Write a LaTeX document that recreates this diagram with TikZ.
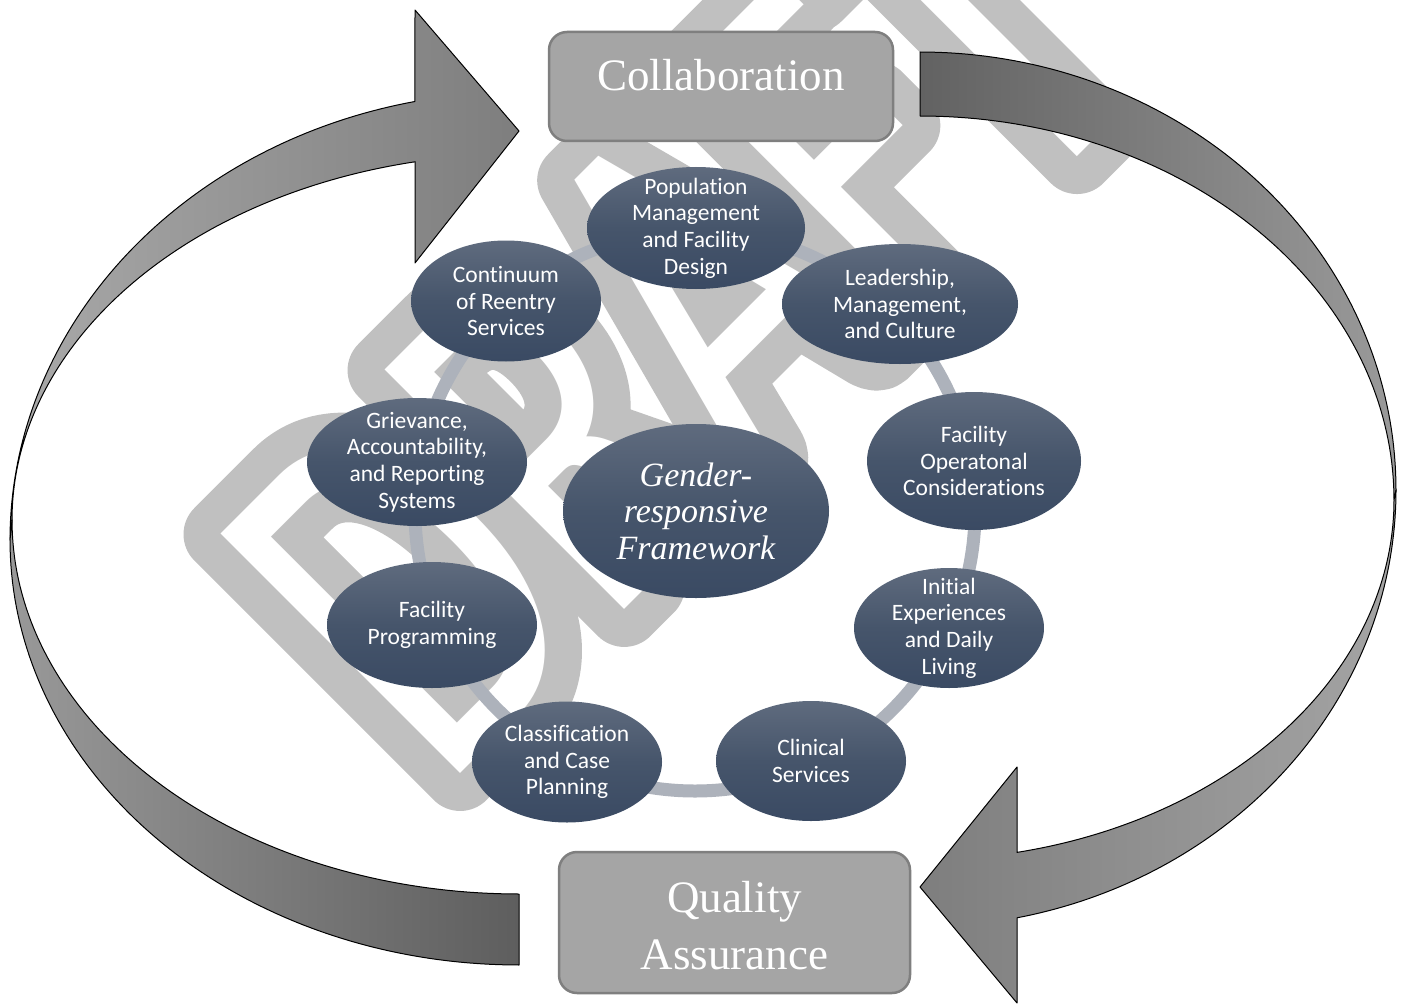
\documentclass[tikz,border=0pt]{standalone}
\usepackage{fontspec}
\setmainfont{Carlito}[Ligatures=NoCommon]
\newfontfamily\boxfont{Liberation Serif}
\newfontfamily\wmfill{Carlito}[FakeStretch=0.71]
\newfontfamily\wmstroke{Carlito}[FakeStretch=0.71, FakeBold=14]
\usetikzlibrary{shapes.geometric}

\definecolor{wmgrey}{HTML}{C0C0C0}
\definecolor{ringcol}{HTML}{ADB2BB}
\definecolor{elltop}{HTML}{5F6B7E}
\definecolor{ellmid}{HTML}{46556B}
\definecolor{ellbot}{HTML}{3A4A63}
\definecolor{boxfill}{HTML}{A5A5A5}
\definecolor{boxline}{HTML}{7F7F7F}
\definecolor{arrLa}{HTML}{A9A9A9}
\definecolor{arrLb}{HTML}{7E7E7E}
\definecolor{arrLc}{HTML}{999999}
\definecolor{arrLd}{HTML}{5E5E5E}
\definecolor{arrRa}{HTML}{626262}
\definecolor{arrRb}{HTML}{9A9A9A}
\definecolor{arrRc}{HTML}{7E7E7E}
\definecolor{arrRd}{HTML}{A4A4A4}

\begin{document}
\begin{tikzpicture}[x=1pt,y=-1pt,
  topic/.style={ellipse, inner sep=0pt, draw=none,
    top color=elltop, bottom color=ellbot, middle color=ellmid},
  topictext/.style={text=white, align=center, inner sep=0pt,
    font=\fontsize{23.5}{26.7}\selectfont},
  corebox/.style={rectangle, rounded corners=18pt, fill=boxfill,
    draw=boxline, line width=2.5pt},
  boxtext/.style={text=white, align=center, inner sep=0pt,
    font=\boxfont\fontsize{45}{57}\selectfont},
  arrowedge/.style={draw=black, line width=1pt, line join=round},
  wmark/.style={rotate=45, anchor=base west, inner sep=0pt}]

\useasboundingbox (0,0) rectangle (1404,1003);
\fill[white] (0,0) rectangle (1404,1003);

% watermark: outlined letters
\begin{scope}[line join=round]
  \node[wmark, text=wmgrey] (wmband) at (442,792)
    {\wmstroke\fontsize{528}{528}\selectfont DRAFT};
  \node[wmark, text=white] (wmhole) at (442,792)
    {\wmfill\fontsize{528}{528}\selectfont DRAFT};
\end{scope}

% ring joining the topics
\draw[ringcol, line width=13pt] (695,511) circle[radius=280];

% topics
\node[topic, minimum width=218pt, minimum height=122pt] (pop)   at (696,228) {};
\node[topic, minimum width=236pt, minimum height=120pt] (lead)  at (900,304) {};
\node[topic, minimum width=214pt, minimum height=138pt] (facop) at (974,461) {};
\node[topic, minimum width=190pt, minimum height=120pt] (init)  at (949,628) {};
\node[topic, minimum width=190pt, minimum height=120pt] (clin)  at (811,761) {};
\node[topic, minimum width=190pt, minimum height=121pt] (class) at (567,762) {};
\node[topic, minimum width=210pt, minimum height=126pt] (prog)  at (432,625) {};
\node[topic, minimum width=220pt, minimum height=128pt] (griev) at (417,462) {};
\node[topic, minimum width=190pt, minimum height=121pt] (cont)  at (506,301) {};
\node[topic, minimum width=266pt, minimum height=174pt] (core)  at (696,511) {};

\node[topictext] (poptext)   at (pop)   {Population\\Management\\and Facility\\Design};
\node[topictext] (leadtext)  at (lead)  {Leadership,\\Management,\\and Culture};
\node[topictext] (facoptext) at (facop) {Facility\\Operatonal\\Considerations};
\node[topictext] (inittext)  at (init)  {Initial\\Experiences\\and Daily\\Living};
\node[topictext] (clintext)  at (clin)  {Clinical\\Services};
\node[topictext] (classtext) at (class) {Classification\\and Case\\Planning};
\node[topictext] (progtext)  at (prog)  {Facility\\Programming};
\node[topictext] (grievtext) at (griev) {Grievance,\\Accountability,\\and Reporting\\Systems};
\node[topictext] (conttext)  at (cont)  {Continuum\\of Reentry\\Services};
\node[text=white, align=center, inner sep=0pt,
      font=\boxfont\itshape\fontsize{34}{36.5}\selectfont] (coretext) at (core)
      {Gender-\\responsive\\Framework};

% the two stages
\node[corebox, minimum width=344pt, minimum height=109pt] (collab) at (721,86.5) {};
\node[boxtext, anchor=base] (collabtext) at (721,91) {Collaboration};
\node[corebox, minimum width=351pt, minimum height=141pt] (qa) at (734.5,922.5) {};
\node[boxtext, anchor=base] (qatext) at (734.5,969) {Quality\\Assurance};

% left curved arrow: front ribbon with head
\draw[arrowedge, left color=arrLa, right color=arrLb]
  plot[domain=180:101.8, samples=80] ({519+509*cos(\x)},{540-448*sin(\x)})
  -- (415,10) -- (519,131) -- (415,263) -- (415,162)
  -- plot[domain=101.8:180, samples=80] ({519+507*cos(\x)},{520-366*sin(\x)})
  -- cycle;
% left curved arrow: back ribbon with tail
\draw[arrowedge, left color=arrLc, right color=arrLd]
  plot[domain=180:270, samples=80] ({519+509*cos(\x)},{540-425*sin(\x)})
  -- (519,894)
  -- plot[domain=270:180, samples=80] ({519+507*cos(\x)},{520-374*sin(\x)})
  -- cycle;

% right curved arrow: back ribbon with tail
\draw[arrowedge, left color=arrRa, right color=arrRb]
  plot[domain=90:0, samples=80] ({920+476*cos(\x)},{490-438*sin(\x)})
  -- plot[domain=0:90, samples=80] ({920+474*cos(\x)},{500-384*sin(\x)})
  -- cycle;
% right curved arrow: front ribbon with head
\draw[arrowedge, left color=arrRc, right color=arrRd]
  plot[domain=0:-78.24, samples=80] ({920+476*cos(\x)},{490-437*sin(\x)})
  -- (1017,1003) -- (920,887) -- (1017,767) -- (1017,852)
  -- plot[domain=-78.19:0, samples=80] ({920+474*cos(\x)},{500-360*sin(\x)})
  -- cycle;
\end{tikzpicture}
\end{document}
